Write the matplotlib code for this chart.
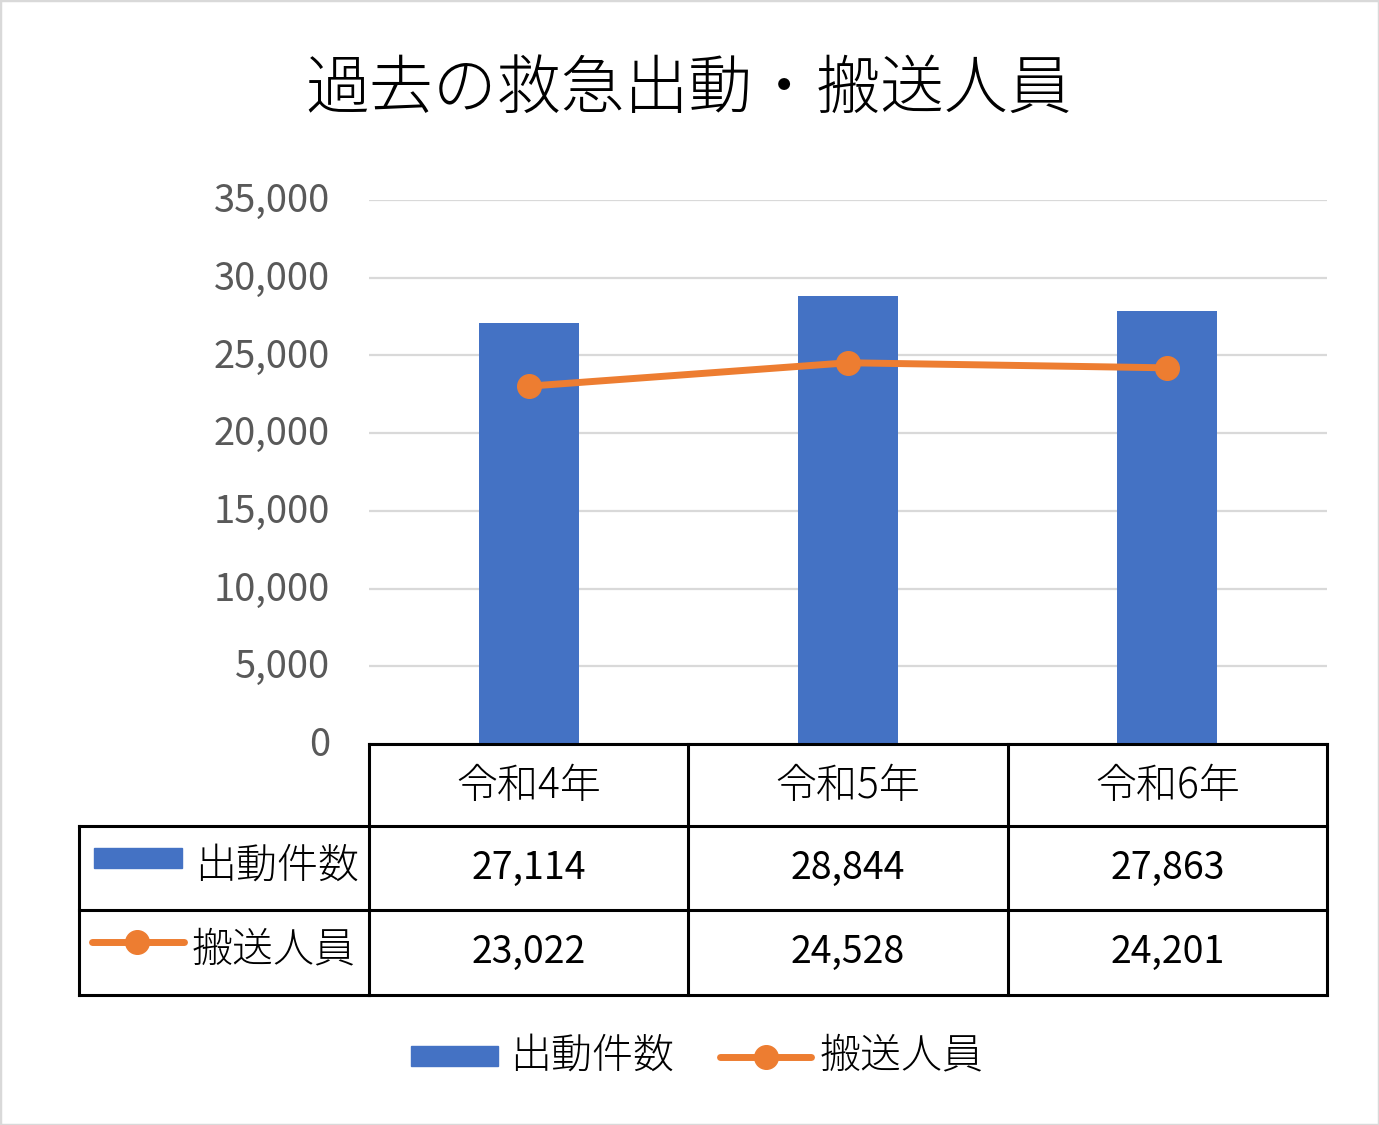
import matplotlib
matplotlib.use("Agg")
import matplotlib.pyplot as plt
from matplotlib.patches import Rectangle
from matplotlib.lines import Line2D
from matplotlib.transforms import Affine2D, blended_transform_factory, ScaledTranslation

plt.rcParams['font.family'] = ['Noto Sans CJK JP', 'DejaVu Sans']

# ---- data ----
title = "過去の救急出動・搬送人員"
categories = ["令和4年", "令和5年", "令和6年"]
series_names = ["出動件数", "搬送人員"]
dispatches = [27114, 28844, 27863]
transported = [23022, 24528, 24201]
yticks = [0, 5000, 10000, 15000, 20000, 25000, 30000, 35000]

BLUE = "#4472C4"
ORANGE = "#ED7D31"
GRID = "#D9D9D9"
W, H = 1379, 1125
CJK_FS = 29.5
NUM_FS = 27

fig = plt.figure(figsize=(W / 100, H / 100), dpi=100)
px = Affine2D().scale(1 / W, -1 / H).translate(0, 1) + fig.transFigure

ax = fig.add_axes([369 / W, 1 - 744 / H, (1327 - 369) / W, (744 - 200) / H])
x = list(range(len(categories)))
ax.bar(x, dispatches, width=0.313, color=BLUE, zorder=2)
ax.plot(x, transported, color=ORANGE, lw=5, marker="o", markersize=17,
        solid_capstyle="round", zorder=3)
ax.set_xlim(-0.5, len(categories) - 0.5)
ax.set_ylim(0, 35000)
ax.set_yticks(yticks)
ax.set_yticklabels([f"{v:,}" for v in yticks], fontsize=27.5, color="#595959")
ax.tick_params(axis="y", length=0, pad=28)
shift = ScaledTranslation(0, 3 / 100, fig.dpi_scale_trans)
for lab in ax.get_yticklabels():
    lab.set_transform(lab.get_transform() + shift)
ax.set_xticks([])
ax.grid(axis="y", color=GRID, lw=1.6, zorder=0)
for s in ax.spines.values():
    s.set_visible(False)

# ---- data table ----
bt = blended_transform_factory(ax.transData, px)
LW = 2.2
rows_y = [744, 826, 910, 995]
fig.add_artist(Line2D([-0.5, 2.5], [744, 744], transform=bt, color="black", lw=LW))
for yy in rows_y[1:]:
    fig.add_artist(Line2D([79, 369], [yy, yy], transform=px, color="black", lw=LW))
    fig.add_artist(Line2D([-0.5, 2.5], [yy, yy], transform=bt, color="black", lw=LW))
fig.add_artist(Line2D([79, 79], [826, 995], transform=px, color="black", lw=LW))
for i in range(len(categories) + 1):
    fig.add_artist(Line2D([i - 0.5, i - 0.5], [744, 995], transform=bt, color="black", lw=LW))

for i, c in enumerate(categories):
    fig.text(i, 786, c, transform=bt, ha="center", va="center", fontsize=CJK_FS,
             fontweight="light")
    fig.text(i, 868, f"{dispatches[i]:,}", transform=bt, ha="center", va="center", fontsize=NUM_FS)
    fig.text(i, 952, f"{transported[i]:,}", transform=bt, ha="center", va="center", fontsize=NUM_FS)

# row headers with legend keys
fig.add_artist(Rectangle((94, 868), 88, -20, transform=px, color=BLUE))
fig.text(195, 866, series_names[0], transform=px, ha="left", va="center", fontsize=CJK_FS,
         fontweight="light")
fig.add_artist(Line2D([92, 184], [942, 942], transform=px, color=ORANGE, lw=5,
                      solid_capstyle="round"))
fig.add_artist(Line2D([137], [942], transform=px, color=ORANGE, marker="o", markersize=17))
fig.text(192, 950, series_names[1], transform=px, ha="left", va="center", fontsize=CJK_FS,
         fontweight="light")

# ---- bottom legend ----
fig.add_artist(Rectangle((411, 1066), 87, -20, transform=px, color=BLUE))
fig.text(510, 1056, series_names[0], transform=px, ha="left", va="center", fontsize=CJK_FS,
         fontweight="light")
fig.add_artist(Line2D([720, 811], [1057, 1057], transform=px, color=ORANGE, lw=5,
                      solid_capstyle="round"))
fig.add_artist(Line2D([766], [1057], transform=px, color=ORANGE, marker="o", markersize=17))
fig.text(820, 1056, series_names[1], transform=px, ha="left", va="center", fontsize=CJK_FS,
         fontweight="light")

# ---- title ----
fig.text(689, 90, title, transform=px, ha="center", va="center", fontsize=46,
         fontweight="light")

# outer frame
fig.add_artist(Rectangle((0, 0), 1, 1, transform=fig.transFigure, fill=False,
                         edgecolor=GRID, lw=2.5))

fig.savefig("out.png", dpi=100)
